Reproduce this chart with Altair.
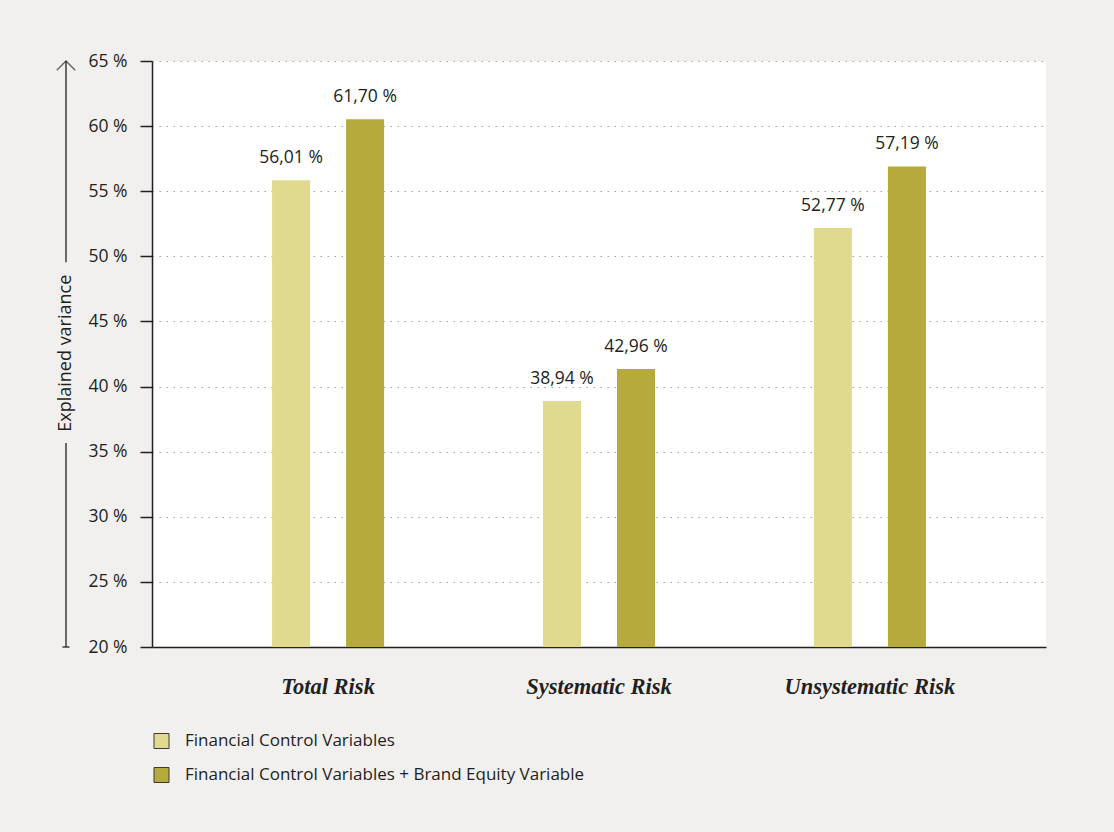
import altair as alt
import pandas as pd

# ---- data ----
categories = ["Total Risk", "Systematic Risk", "Unsystematic Risk"]
series = ["Financial Control Variables",
          "Financial Control Variables + Brand Equity Variable"]
# bar heights as drawn in the picture (percent)
bars_fcv = [55.84, 38.90, 52.18]
bars_fcv_be = [60.52, 41.34, 56.90]
# value labels printed above the bars
labels_fcv = ["56,01 %", "38,94 %", "52,77 %"]
labels_fcv_be = ["61,70 %", "42,96 %", "57,19 %"]
y_ticks = [20, 25, 30, 35, 40, 45, 50, 55, 60, 65]
colors = ["#e0da8e", "#b6aa3c"]
axis_title = "Explained variance"

rows = []
for i, c in enumerate(categories):
    rows.append({"cat": c, "series": series[0], "v": bars_fcv[i], "label": labels_fcv[i]})
    rows.append({"cat": c, "series": series[1], "v": bars_fcv_be[i], "label": labels_fcv_be[i]})
df = pd.DataFrame(rows)

TXT = "#231f20"
SANS = "Open Sans"

x_enc = alt.X("cat:N", sort=categories,
              scale=alt.Scale(paddingInner=0.04, paddingOuter=0.17),
              axis=alt.Axis(title=None, labelAngle=0, ticks=False, tickSize=0,
                            labelPadding=46, labelBaseline="alphabetic",
                            labelFont="Liberation Serif", labelFontStyle="italic",
                            labelFontWeight="bold", labelFontSize=22.5, labelColor=TXT,
                            domainColor=TXT, domainWidth=1.5, grid=False))
xo_enc = alt.XOffset("series:N", sort=series,
                     scale=alt.Scale(domain=series, paddingInner=0.4865, paddingOuter=1))
y_scale = alt.Scale(domain=[20, 65], nice=False, zero=False)

bars = alt.Chart(df).mark_bar().encode(
    x=x_enc,
    xOffset=xo_enc,
    y=alt.Y("v:Q", scale=y_scale,
            axis=alt.Axis(title=None, values=y_ticks, labelExpr="datum.value + ' %'",
                          labelFont=SANS, labelFontSize=17.5, labelColor=TXT,
                          labelPadding=13, tickSize=12, tickColor=TXT, tickWidth=1.5,
                          domainColor=TXT, domainWidth=1.5,
                          grid=True, gridColor="#a9a295", gridDash=[1.5, 5.5],
                          gridWidth=1)),
    y2=alt.datum(20),
    color=alt.Color("series:N",
                    scale=alt.Scale(domain=series, range=colors),
                    legend=alt.Legend(orient="none", legendX=1, legendY=671.5,
                                      title=None, symbolType="square",
                                      symbolSize=225, symbolStrokeColor="#3a3a3a",
                                      symbolStrokeWidth=1, symbolOpacity=1,
                                      labelFont=SANS, labelFontSize=17,
                                      labelColor=TXT, labelOffset=15, labelLimit=0,
                                      rowPadding=15, padding=0)),
)

texts = alt.Chart(df).mark_text(font=SANS, fontSize=17.5, color=TXT,
                                baseline="middle", dy=-22).encode(
    x=alt.X("cat:N", sort=categories),
    xOffset=alt.XOffset("series:N", sort=series),
    y=alt.Y("v:Q", title=None),
    text="label:N",
)

# y-axis arrow decoration (in data units of the y scale)
seg_df = pd.DataFrame({"y1": [20, 49.55], "y2": [35.66, 65]})
segs = alt.Chart(seg_df).mark_rule(color=TXT, strokeWidth=1.3).encode(
    x=alt.value(-86),
    y=alt.Y("y1:Q", title=None),
    y2="y2:Q",
)
foot = alt.Chart(pd.DataFrame({"y": [20]})).mark_rule(color=TXT, strokeWidth=1.3).encode(
    x=alt.value(-89.5), x2=alt.value(-82.5), y=alt.Y("y:Q", title=None))
head = alt.Chart(pd.DataFrame({"y": [65]})).mark_point(
    shape="M-1,1L0,0L1,1", filled=False, stroke=TXT, strokeWidth=1.3, size=340
).encode(x=alt.value(-86), y=alt.Y("y:Q", title=None))
title = alt.Chart(pd.DataFrame({"y": [42.56], "t": [axis_title]})).mark_text(
    angle=270, font=SANS, fontSize=18, color=TXT, baseline="middle", align="center"
).encode(x=alt.value(-86), y=alt.Y("y:Q", title=None), text="t:N")

chart = alt.layer(bars, texts, segs, foot, head, title).properties(
    width=894, height=586,
    autosize=alt.AutoSizeParams(type="none"),
    padding={"left": 152, "top": 61, "right": 68, "bottom": 185},
    background="#f2f0ef",
).configure_view(fill="white", strokeWidth=0)

chart.save("out.html", embed_options={"renderer": "svg", "actions": False})
